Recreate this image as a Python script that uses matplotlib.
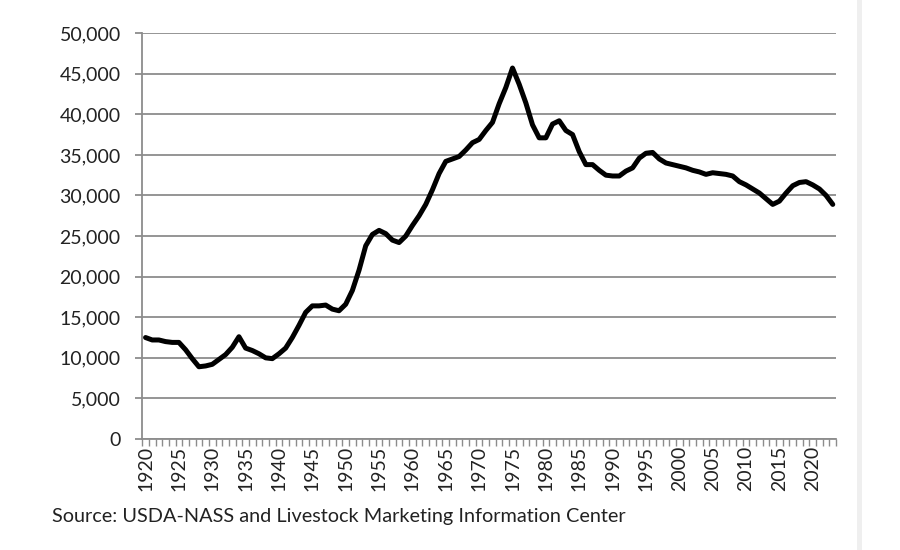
import matplotlib
matplotlib.use("Agg")
import matplotlib.pyplot as plt
from matplotlib.patches import Rectangle
from matplotlib.ticker import FuncFormatter, MultipleLocator, FixedLocator

plt.rcParams['font.family'] = ['Lato', 'DejaVu Sans']

years = list(range(1920, 2024))
cows = [
    12500, 12200, 12200, 12000, 11900, 11900, 11000, 9900, 8900, 9000,   # 1920-1929
    9200, 9800, 10400, 11300, 12600, 11200, 10900, 10500, 10000, 9900,   # 1930-1939
    10500, 11200, 12500, 14000, 15600, 16400, 16400, 16500, 16000, 15800, # 1940-1949
    16600, 18300, 20800, 23800, 25200, 25700, 25300, 24500, 24200, 25000, # 1950-1959
    26300, 27500, 28900, 30700, 32700, 34200, 34500, 34800, 35600, 36500, # 1960-1969
    36900, 38000, 39000, 41300, 43300, 45700, 43700, 41400, 38700, 37100, # 1970-1979
    37100, 38800, 39200, 38000, 37500, 35400, 33800, 33800, 33100, 32500, # 1980-1989
    32400, 32400, 33000, 33400, 34600, 35200, 35300, 34500, 34000, 33800, # 1990-1999
    33600, 33400, 33100, 32900, 32600, 32800, 32700, 32600, 32400, 31700, # 2000-2009
    31300, 30800, 30300, 29600, 28900, 29300, 30300, 31200, 31600, 31700, # 2010-2019
    31300, 30800, 30000, 28900,                                           # 2020-2023
]
label_years = list(range(1920, 2024, 5))
source_text = "Source: USDA-NASS and Livestock Marketing Information Center"

fig = plt.figure(figsize=(9, 5.5), dpi=100)
ax = fig.add_axes([0.158, 0.2018, 0.771, 0.738])

x = list(range(len(years)))
ax.plot(x, cows, color='black', linewidth=3.6, solid_joinstyle='round', solid_capstyle='round', zorder=3)

ax.set_xlim(-0.5, len(years) - 0.5)
ax.set_ylim(0, 50000)

gray = '#8c8c8c'
ax.yaxis.set_major_locator(MultipleLocator(5000))
ax.yaxis.set_major_formatter(FuncFormatter(lambda v, p: f"{int(v):,}"))
ax.grid(axis='y', color=gray, linewidth=1.3)
ax.set_axisbelow(True)

ax.set_xticks([years.index(y) for y in label_years])
ax.set_xticklabels([str(y) for y in label_years], rotation=90)
ax.xaxis.set_minor_locator(FixedLocator([i - 0.5 for i in range(len(years) + 1)]))

for s in ['top', 'right']:
    ax.spines[s].set_visible(False)
for s in ['left', 'bottom']:
    ax.spines[s].set_color(gray)
    ax.spines[s].set_linewidth(1.3)

ax.tick_params(axis='y', which='major', length=5, width=1.3, color=gray, labelsize=14, pad=10.5, labelcolor='#222222')
ax.tick_params(axis='x', which='major', length=0, labelsize=14, pad=5, labelcolor='#222222')
ax.tick_params(axis='x', which='minor', length=5, width=1.0, color=gray)

fig.text(52 / 900, 1 - 522 / 550, source_text, fontsize=14.3, color='#222222', ha='left', va='baseline')

fig.patches.append(Rectangle((857 / 900, 0), 5 / 900, 1, transform=fig.transFigure,
                             facecolor='#efefef', edgecolor='none'))

fig.savefig('out.png', dpi=100)
